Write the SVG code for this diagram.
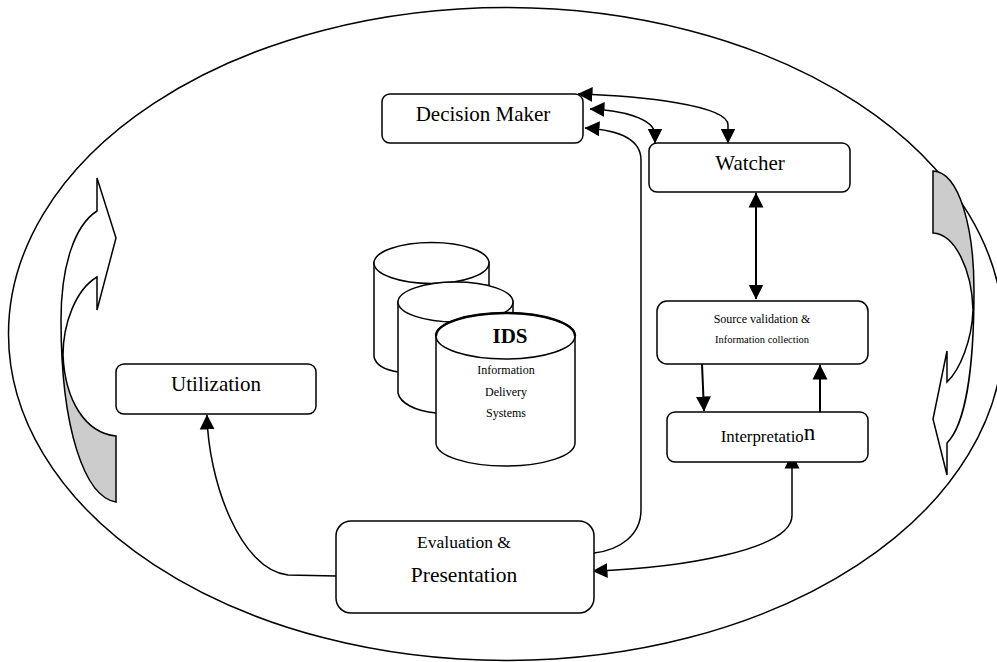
<svg xmlns="http://www.w3.org/2000/svg" width="997" height="662" viewBox="0 0 997 662">
<style>
.s{fill:none;stroke:#000;stroke-width:1.5}
.n{fill:#fff;stroke:#000;stroke-width:1.5}
.g{fill:#ccc;stroke:none}
.c{fill:none;stroke:#000;stroke-width:1.5}
.k{stroke:#000;stroke-width:2;fill:none}
text{font-family:"Liberation Serif","Times New Roman",serif;fill:#000;text-anchor:middle}
</style>
<defs>
<marker id="a" markerUnits="userSpaceOnUse" markerWidth="16" markerHeight="16" refX="14.5" refY="7.5" orient="auto-start-reverse" viewBox="0 0 16 15"><path d="M0 0L15 7.5L0 15Z" fill="#000"/></marker>
</defs>
<rect width="997" height="662" fill="#fff"/>
<g id="boundary"><ellipse cx="506" cy="334" rx="497.500" ry="326.500" class="s"/></g>
<g id="left-arrow">
<path class="g" d="M63 355C65 400 85 433 116 436V502C85 497 61 430 61 320Z"/>
<path class="s" d="M97 178L116 238L97 310V277C75 290 63 325 63 355C65 400 85 433 116 436V502C85 497 61 430 61 320C61 265 75 225 97 211Z"/>
</g>
<g id="right-arrow">
<path class="g" d="M933 171C960 172 974 230 974 290V310C972 270 955 234 933 233Z"/>
<path class="s" d="M947 351V382C960 370 972 340 973 310C972 270 955 234 933 233V171C960 172 974 230 974 290C974 370 965 425 947 443V475L933 419Z"/>
</g>
<g id="connectors">
<path class="c" d="M578 94C640 96 728 105 728 125V143" marker-start="url(#a)" marker-end="url(#a)"/>
<path class="c" d="M590 109C620 110 655 118 655 135V143" marker-start="url(#a)" marker-end="url(#a)"/>
<path class="c" d="M594 553C620 550 641 535 641 510V160C641 140 620 130 585 128" marker-end="url(#a)"/>
<path class="k" d="M756 193V299" marker-start="url(#a)" marker-end="url(#a)"/>
<path class="k" d="M702 364L704 411" marker-end="url(#a)"/>
<path class="k" d="M820 412V365" marker-end="url(#a)"/>
<path class="c" d="M792 454L792 515C793 550 680 568 593 571" marker-start="url(#a)" marker-end="url(#a)"/>
<path class="c" d="M336 576L288 575C240 570 208 480 207 415" marker-end="url(#a)"/>
</g>
<g id="decision-maker"><rect x="382" y="94" width="201" height="49" rx="8" class="n"/><text x="483" y="121" font-size="21">Decision Maker</text></g>
<g id="watcher"><rect x="649" y="143" width="201" height="49" rx="8" class="n"/><text x="750" y="170" font-size="21">Watcher</text></g>
<g id="source"><rect x="657" y="301" width="211" height="63" rx="10" class="n"/><text x="762" y="323" font-size="12">Source validation &amp;</text><text x="762" y="343" font-size="10.500">Information collection</text></g>
<g id="interpretation"><rect x="667" y="412" width="201" height="50" rx="8" class="n"/><text x="768" y="442" font-size="16.800">Interpretatio<tspan font-size="23" dy="-2">n</tspan></text></g>
<g id="utilization"><rect x="116" y="364" width="200" height="50" rx="8" class="n"/><text x="216" y="391" font-size="21">Utilization</text></g>
<g id="evaluation"><rect x="336" y="521" width="258" height="92" rx="15" class="n"/><text x="464" y="548" font-size="17.500">Evaluation &amp;</text><text x="464" y="582" font-size="21.500">Presentation</text></g>
<g id="cyl-3"><path class="n" d="M374 262V357C376 365 385 370 398 372L489 372V262"/><ellipse cx="431.500" cy="263" rx="57.500" ry="20.500" class="n"/></g>
<g id="cyl-2"><path class="n" d="M398 301V393C400 403 415 411 436 413L513 413V301"/><ellipse cx="455.500" cy="302" rx="57.500" ry="20" class="n"/></g>
<g id="cyl-1"><path class="n" d="M436 336V443C436 456 468 466 505.500 466C543 466 575 456 575 443V336"/><ellipse cx="505.500" cy="336" rx="69.500" ry="23" class="n"/><path d="M436 336C436 323 468 313 505.500 313C543 313 575 323 575 336" fill="none" stroke="#000" stroke-width="2.500"/>
<text x="510" y="343" font-size="21" font-weight="bold">IDS</text><text x="506" y="374" font-size="12">Information</text><text x="506" y="396" font-size="12">Delivery</text><text x="506" y="417" font-size="12">Systems</text></g>
</svg>
